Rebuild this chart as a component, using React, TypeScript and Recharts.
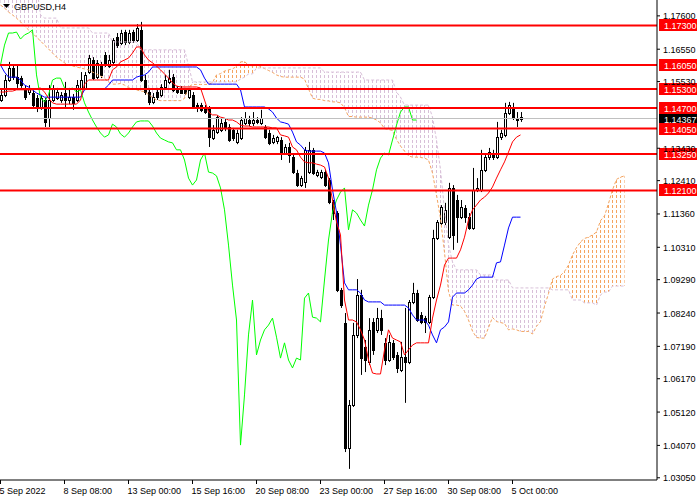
import React from 'react';
import { ComposedChart, Bar, Line, Area, XAxis, YAxis, ReferenceLine } from 'recharts';

// H4 candles, oldest first (bar 0 = 5 Sep 2022)
const openP = [
  1.1495, 1.1511, 1.1558, 1.1596, 1.1567, 1.1564, 1.1533, 1.1520, 1.1517, 1.1501,
  1.1473, 1.1495, 1.1438, 1.1495, 1.1501, 1.1495, 1.1517, 1.1495, 1.1504, 1.1495,
  1.1533, 1.1533, 1.1583, 1.1621, 1.1567, 1.1605, 1.1637, 1.1602, 1.1615, 1.1693,
  1.1675, 1.1709, 1.1678, 1.1709, 1.1684, 1.1716, 1.1558, 1.1520, 1.1489, 1.1520,
  1.1511, 1.1536, 1.1552, 1.1567, 1.1533, 1.1530, 1.1527, 1.1504, 1.1511, 1.1479,
  1.1479, 1.1473, 1.1470, 1.1375, 1.1394, 1.1401, 1.1426, 1.1410, 1.1401, 1.1363,
  1.1375, 1.1423, 1.1432, 1.1423, 1.1432, 1.1423, 1.1410, 1.1391, 1.1363, 1.1366,
  1.1369, 1.1328, 1.1347, 1.1315, 1.1265, 1.1227, 1.1237, 1.1268, 1.1338, 1.1259,
  1.1252, 1.1268, 1.1243, 1.1174, 1.1139, 1.0897, 1.0793, 1.0399, 1.0534, 1.0755,
  1.0881, 1.0717, 1.0670, 1.0796, 1.0771, 1.0808, 1.0730, 1.0676, 1.0730, 1.0692,
  1.0645, 1.0685, 1.0670, 1.0859, 1.0887, 1.0818, 1.0808, 1.0796, 1.0874, 1.1060,
  1.1108, 1.1111, 1.1063, 1.1218, 1.1180, 1.1126, 1.1155, 1.1126, 1.1092, 1.1212,
  1.1212, 1.1275, 1.1315, 1.1328, 1.1315, 1.1378, 1.1385, 1.1454, 1.1470, 1.1438,
  1.1440,
];
const highP = [
  1.1527, 1.1574, 1.1615, 1.1605, 1.1605, 1.1571, 1.1542, 1.1542, 1.1527, 1.1511,
  1.1511, 1.1501, 1.1542, 1.1542, 1.1533, 1.1520, 1.1552, 1.1533, 1.1514, 1.1558,
  1.1583, 1.1583, 1.1637, 1.1630, 1.1621, 1.1615, 1.1646, 1.1637, 1.1690, 1.1706,
  1.1716, 1.1716, 1.1716, 1.1716, 1.1734, 1.1741, 1.1574, 1.1533, 1.1517, 1.1533,
  1.1545, 1.1574, 1.1590, 1.1577, 1.1539, 1.1539, 1.1533, 1.1533, 1.1520, 1.1486,
  1.1486, 1.1479, 1.1476, 1.1416, 1.1448, 1.1438, 1.1435, 1.1419, 1.1407, 1.1401,
  1.1441, 1.1457, 1.1445, 1.1457, 1.1441, 1.1464, 1.1416, 1.1401, 1.1385, 1.1382,
  1.1378, 1.1356, 1.1360, 1.1322, 1.1275, 1.1256, 1.1347, 1.1363, 1.1344, 1.1275,
  1.1275, 1.1275, 1.1249, 1.1180, 1.1145, 1.0903, 1.0824, 1.0550, 1.0793, 1.0931,
  1.0897, 1.0739, 1.0808, 1.0808, 1.0840, 1.0834, 1.0745, 1.0755, 1.0739, 1.0701,
  1.0733, 1.0840, 1.0865, 1.0919, 1.0897, 1.0827, 1.0815, 1.0881, 1.1086, 1.1117,
  1.1164, 1.1171, 1.1234, 1.1227, 1.1196, 1.1180, 1.1164, 1.1139, 1.1281, 1.1249,
  1.1338, 1.1322, 1.1344, 1.1338, 1.1426, 1.1401, 1.1486, 1.1489, 1.1486, 1.1457,
  1.1457,
];
const lowP = [
  1.1489, 1.1504, 1.1552, 1.1558, 1.1533, 1.1533, 1.1495, 1.1511, 1.1473, 1.1457,
  1.1464, 1.1410, 1.1410, 1.1489, 1.1495, 1.1486, 1.1473, 1.1482, 1.1464, 1.1489,
  1.1527, 1.1527, 1.1577, 1.1558, 1.1561, 1.1564, 1.1599, 1.1596, 1.1608, 1.1659,
  1.1668, 1.1668, 1.1671, 1.1675, 1.1678, 1.1552, 1.1511, 1.1479, 1.1482, 1.1495,
  1.1504, 1.1527, 1.1545, 1.1520, 1.1514, 1.1514, 1.1511, 1.1498, 1.1467, 1.1457,
  1.1457, 1.1451, 1.1347, 1.1369, 1.1388, 1.1394, 1.1397, 1.1363, 1.1366, 1.1356,
  1.1369, 1.1416, 1.1413, 1.1413, 1.1419, 1.1416, 1.1372, 1.1353, 1.1356, 1.1356,
  1.1306, 1.1322, 1.1297, 1.1262, 1.1221, 1.1221, 1.1218, 1.1262, 1.1259, 1.1252,
  1.1246, 1.1221, 1.1167, 1.1117, 1.0890, 1.0840, 1.0386, 1.0333, 1.0528, 1.0745,
  1.0629, 1.0638, 1.0660, 1.0692, 1.0761, 1.0755, 1.0660, 1.0670, 1.0676, 1.0635,
  1.0638, 1.0541, 1.0663, 1.0852, 1.0796, 1.0789, 1.0761, 1.0789, 1.0868, 1.1054,
  1.1101, 1.1101, 1.1057, 1.1023, 1.1045, 1.1120, 1.1108, 1.1086, 1.1086, 1.1205,
  1.1205, 1.1268, 1.1306, 1.1306, 1.1309, 1.1369, 1.1378, 1.1448, 1.1432, 1.1410,
  1.1426,
];
const closeP = [
  1.1511, 1.1558, 1.1596, 1.1567, 1.1549, 1.1542, 1.1504, 1.1533, 1.1479, 1.1470,
  1.1501, 1.1426, 1.1495, 1.1533, 1.1520, 1.1511, 1.1495, 1.1504, 1.1486, 1.1542,
  1.1558, 1.1574, 1.1627, 1.1564, 1.1612, 1.1574, 1.1608, 1.1621, 1.1684, 1.1668,
  1.1706, 1.1678, 1.1706, 1.1684, 1.1722, 1.1558, 1.1520, 1.1489, 1.1504, 1.1504,
  1.1536, 1.1558, 1.1564, 1.1527, 1.1520, 1.1517, 1.1517, 1.1527, 1.1473, 1.1470,
  1.1464, 1.1457, 1.1378, 1.1401, 1.1441, 1.1423, 1.1407, 1.1369, 1.1375, 1.1391,
  1.1432, 1.1438, 1.1423, 1.1432, 1.1426, 1.1438, 1.1378, 1.1360, 1.1375, 1.1378,
  1.1328, 1.1347, 1.1322, 1.1268, 1.1227, 1.1249, 1.1338, 1.1338, 1.1265, 1.1268,
  1.1268, 1.1227, 1.1174, 1.1139, 1.0897, 1.0849, 1.0399, 1.0534, 1.0755, 1.0881,
  1.0682, 1.0676, 1.0771, 1.0708, 1.0808, 1.0771, 1.0676, 1.0733, 1.0685, 1.0651,
  1.0685, 1.0670, 1.0859, 1.0887, 1.0802, 1.0796, 1.0796, 1.0874, 1.1060, 1.1111,
  1.1158, 1.1149, 1.1218, 1.1070, 1.1126, 1.1158, 1.1126, 1.1092, 1.1212, 1.1218,
  1.1275, 1.1315, 1.1331, 1.1315, 1.1378, 1.1391, 1.1454, 1.1479, 1.1438, 1.1432,
  1.14367,
];

// Ichimoku lines
const tenkan = [
  1.1520, 1.1520, 1.1523, 1.1523, 1.1527, 1.1527, 1.1527, 1.1527, 1.1527, 1.1530,
  1.1533, 1.1520, 1.1501, 1.1486, 1.1482, 1.1482, 1.1482, 1.1482, 1.1482, 1.1482,
  1.1495, 1.1545, 1.1558, 1.1558, 1.1558, 1.1558, 1.1558, 1.1558, 1.1590, 1.1599,
  1.1615, 1.1621, 1.1627, 1.1643, 1.1662, 1.1662, 1.1637, 1.1621, 1.1612, 1.1602,
  1.1590, 1.1577, 1.1564, 1.1549, 1.1539, 1.1536, 1.1536, 1.1536, 1.1536, 1.1536,
  1.1533, 1.1495, 1.1457, 1.1448, 1.1448, 1.1441, 1.1438, 1.1432, 1.1432, 1.1426,
  1.1416, 1.1413, 1.1413, 1.1410, 1.1410, 1.1410, 1.1410, 1.1410, 1.1407, 1.1407,
  1.1385, 1.1382, 1.1378, 1.1347, 1.1338, 1.1315, 1.1300, 1.1297, 1.1297, 1.1293,
  1.1290, 1.1284, 1.1249, 1.1180, 1.1111, 1.1070, 1.0865, 1.0802, 1.0802, 1.0796,
  1.0771, 1.0739, 1.0676, 1.0635, 1.0632, 1.0632, 1.0708, 1.0771, 1.0745, 1.0739,
  1.0733, 1.0692, 1.0708, 1.0723, 1.0730, 1.0730, 1.0730, 1.0730, 1.0808, 1.0865,
  1.0912, 1.0975, 1.0997, 1.0997, 1.0997, 1.1023, 1.1063, 1.1117, 1.1149, 1.1164,
  1.1180, 1.1189, 1.1202, 1.1221, 1.1249, 1.1275, 1.1300, 1.1331, 1.1363, 1.1378,
  1.1385,
];
const kijun = [
  1.1605, 1.1583, 1.1567, 1.1567, 1.1567, 1.1558, 1.1542, 1.1536, 1.1527, 1.1517,
  1.1511, 1.1504, 1.1504, 1.1504, 1.1504, 1.1504, 1.1504, 1.1504, 1.1504, 1.1504,
  1.1504, 1.1527, 1.1530, 1.1530, 1.1530, 1.1530, 1.1530, 1.1542, 1.1558, 1.1558,
  1.1558, 1.1558, 1.1558, 1.1558, 1.1567, 1.1571, 1.1574, 1.1583, 1.1599, 1.1599,
  1.1599, 1.1599, 1.1599, 1.1599, 1.1599, 1.1599, 1.1599, 1.1599, 1.1599, 1.1599,
  1.1590, 1.1564, 1.1545, 1.1545, 1.1545, 1.1545, 1.1545, 1.1545, 1.1545, 1.1545,
  1.1527, 1.1473, 1.1473, 1.1473, 1.1473, 1.1473, 1.1473, 1.1467, 1.1457, 1.1438,
  1.1426, 1.1423, 1.1419, 1.1394, 1.1363, 1.1353, 1.1338, 1.1334, 1.1334, 1.1334,
  1.1334, 1.1328, 1.1297, 1.1212, 1.1142, 1.1038, 1.0919, 1.0897, 1.0897, 1.0897,
  1.0887, 1.0865, 1.0859, 1.0859, 1.0859, 1.0859, 1.0849, 1.0849, 1.0849, 1.0849,
  1.0849, 1.0849, 1.0840, 1.0818, 1.0802, 1.0802, 1.0802, 1.0786, 1.0755, 1.0730,
  1.0771, 1.0780, 1.0796, 1.0874, 1.0887, 1.0887, 1.0887, 1.0897, 1.0912, 1.0931,
  1.0937, 1.0937, 1.0937, 1.0937, 1.0982, 1.0985, 1.1038, 1.1092, 1.1126, 1.1126,
  1.1126,
];
// lagging span, plotted 26 bars back
const chikou = [
  1.1605, 1.1668, 1.1706, 1.1706, 1.1709, 1.1687, 1.1700, 1.1706, 1.1716, 1.1574,
  1.1501, 1.1489, 1.1511, 1.1558, 1.1564, 1.1564, 1.1533, 1.1527, 1.1533, 1.1520,
  1.1527, 1.1486, 1.1457, 1.1432, 1.1410, 1.1391, 1.1378, 1.1385, 1.1419, 1.1410,
  1.1388, 1.1378, 1.1391, 1.1410, 1.1426, 1.1429, 1.1429, 1.1429, 1.1413, 1.1391,
  1.1375, 1.1369, 1.1363, 1.1360, 1.1338, 1.1338, 1.1306, 1.1249, 1.1227, 1.1243,
  1.1306, 1.1328, 1.1268, 1.1265, 1.1256, 1.1218, 1.1149, 1.1038, 1.0912, 1.0802,
  1.0408, 1.0566, 1.0755, 1.0865, 1.0692, 1.0739, 1.0771, 1.0786, 1.0808, 1.0748,
  1.0682, 1.0730, 1.0676, 1.0651, 1.0682, 1.0676, 1.0871, 1.0887, 1.0811, 1.0808,
  1.0796, 1.0928, 1.1054, 1.1142, 1.1180, 1.1205, 1.1218, 1.1086, 1.1149, 1.1139,
  1.1117, 1.1098, 1.1164, 1.1212, 1.1275, 1.1312, 1.1328, 1.1322, 1.1369, 1.1416,
  1.1457, 1.1473, 1.1473, 1.1432, 1.1432,
];
// leading spans, running 26 bars past the last candle
const spanA = [
  1.1794, 1.1785, 1.1772, 1.1763, 1.1753, 1.1741, 1.1728, 1.1716, 1.1706, 1.1693,
  1.1681, 1.1668, 1.1656, 1.1643, 1.1630, 1.1621, 1.1612, 1.1605, 1.1602, 1.1599,
  1.1596, 1.1593, 1.1590, 1.1583, 1.1577, 1.1571, 1.1563, 1.1552, 1.1545, 1.1545,
  1.1547, 1.1542, 1.1534, 1.1531, 1.1527, 1.1523, 1.1522, 1.1512, 1.1503, 1.1495,
  1.1493, 1.1493, 1.1493, 1.1493, 1.1493, 1.1493, 1.1500, 1.1536, 1.1544, 1.1544,
  1.1544, 1.1544, 1.1544, 1.1550, 1.1574, 1.1578, 1.1586, 1.1590, 1.1593, 1.1601,
  1.1615, 1.1616, 1.1605, 1.1602, 1.1605, 1.1601, 1.1594, 1.1588, 1.1582, 1.1574,
  1.1569, 1.1567, 1.1567, 1.1567, 1.1567, 1.1567, 1.1561, 1.1530, 1.1501, 1.1497,
  1.1497, 1.1493, 1.1492, 1.1489, 1.1489, 1.1486, 1.1471, 1.1443, 1.1443, 1.1441,
  1.1441, 1.1441, 1.1441, 1.1438, 1.1432, 1.1423, 1.1405, 1.1402, 1.1399, 1.1371,
  1.1350, 1.1334, 1.1319, 1.1315, 1.1315, 1.1314, 1.1312, 1.1306, 1.1265, 1.1196,
  1.1122, 1.1015, 1.0892, 1.0849, 1.0849, 1.0846, 1.0829, 1.0802, 1.0767, 1.0747,
  1.0745, 1.0745, 1.0778, 1.0810, 1.0797, 1.0794, 1.0791, 1.0771, 1.0774, 1.0771,
  1.0766, 1.0766, 1.0766, 1.0758, 1.0782, 1.0797, 1.0845, 1.0885, 1.0931, 1.0939,
  1.0942, 1.0955, 1.0975, 1.1007, 1.1030, 1.1048, 1.1059, 1.1063, 1.1070, 1.1079,
  1.1115, 1.1130, 1.1169, 1.1212, 1.1245, 1.1252, 1.1256,
];
const spanB = [
  1.1857, 1.1857, 1.1857, 1.1857, 1.1857, 1.1857, 1.1857, 1.1857, 1.1857, 1.1857,
  1.1763, 1.1753, 1.1753, 1.1753, 1.1753, 1.1722, 1.1722, 1.1722, 1.1722, 1.1722,
  1.1722, 1.1722, 1.1722, 1.1706, 1.1706, 1.1706, 1.1706, 1.1706, 1.1678, 1.1678,
  1.1678, 1.1678, 1.1678, 1.1678, 1.1678, 1.1653, 1.1653, 1.1653, 1.1653, 1.1653,
  1.1653, 1.1653, 1.1653, 1.1653, 1.1653, 1.1653, 1.1653, 1.1605, 1.1552, 1.1552,
  1.1552, 1.1552, 1.1552, 1.1552, 1.1552, 1.1552, 1.1552, 1.1552, 1.1552, 1.1552,
  1.1561, 1.1567, 1.1577, 1.1577, 1.1596, 1.1596, 1.1596, 1.1596, 1.1596, 1.1596,
  1.1596, 1.1596, 1.1596, 1.1596, 1.1596, 1.1596, 1.1596, 1.1596, 1.1596, 1.1596,
  1.1596, 1.1583, 1.1583, 1.1583, 1.1583, 1.1583, 1.1583, 1.1583, 1.1583, 1.1583,
  1.1583, 1.1558, 1.1558, 1.1558, 1.1558, 1.1558, 1.1558, 1.1558, 1.1558, 1.1520,
  1.1504, 1.1479, 1.1479, 1.1479, 1.1479, 1.1479, 1.1479, 1.1479, 1.1441, 1.1369,
  1.1275, 1.1149, 1.1038, 1.0985, 1.0960, 1.0960, 1.0960, 1.0960, 1.0960, 1.0960,
  1.0944, 1.0944, 1.0944, 1.0944, 1.0928, 1.0928, 1.0928, 1.0928, 1.0903, 1.0903,
  1.0903, 1.0903, 1.0903, 1.0903, 1.0903, 1.0903, 1.0903, 1.0903, 1.0897, 1.0897,
  1.0897, 1.0897, 1.0897, 1.0865, 1.0865, 1.0865, 1.0856, 1.0856, 1.0856, 1.0849,
  1.0881, 1.0890, 1.0890, 1.0909, 1.0909, 1.0909, 1.0909,
];

const timeTickBars = [0, 16, 32, 48, 64, 80, 96, 112, 128];
const timeLabels = [
  '5 Sep 2022', '8 Sep 08:00', '13 Sep 00:00', '15 Sep 16:00', '20 Sep 08:00',
  '23 Sep 00:00', '27 Sep 16:00', '30 Sep 08:00', '5 Oct 00:00',
];
// 1.14480 sits fully under the price tags, so it is left out
const priceTicks = [
  1.176, 1.1655, 1.1553, 1.1343, 1.1241, 1.1136, 1.1031,
  1.0929, 1.0824, 1.0719, 1.0617, 1.0512, 1.0407, 1.0305,
];
const levels = [1.173, 1.1605, 1.153, 1.147, 1.1405, 1.1325, 1.121];
const lastPrice = 1.14367;

const FONT = '"Liberation Sans", Arial, sans-serif';

const rows = spanA.map((a, i) => {
  const b = spanB[i];
  const bar = i < closeP.length;
  return {
    i,
    open: bar ? openP[i] : undefined,
    high: bar ? highP[i] : undefined,
    low: bar ? lowP[i] : undefined,
    close: bar ? closeP[i] : undefined,
    hl: bar ? [lowP[i], highP[i]] : undefined,
    tenkan: tenkan[i],
    kijun: kijun[i],
    chikou: chikou[i],
    spanA: a,
    spanB: b,
    kumoDown: b >= a ? [a, b] : [b, b],
    kumoUp: a > b ? [b, a] : [a, a],
  };
});

function Candle(props: any) {
  const { x, y, width, height, payload } = props;
  if (!payload || payload.open == null || !isFinite(y) || !isFinite(height)) return null;
  const { open, high, low, close } = payload;
  const top = Math.min(y, y + height);
  const h = Math.abs(height);
  const span = high - low || 1e-9;
  const py = (v: number) => top + ((high - v) / span) * h;
  const cx = Math.floor(x + width / 2) + 0.5;
  const bTop = Math.round(py(Math.max(open, close))) + 0.5;
  const bBot = Math.max(bTop + 1, Math.round(py(Math.min(open, close))) + 0.5);
  const bull = close >= open;
  return (
    <g>
      <line x1={cx} x2={cx} y1={top} y2={top + h} stroke="#000" strokeWidth={1} />
      <rect x={cx - 1} y={bTop} width={2} height={bBot - bTop} fill={bull ? '#fff' : '#000'} stroke="#000" strokeWidth={1} />
    </g>
  );
}

function TimeTick(props: any) {
  const { x, payload } = props;
  const k = timeTickBars.indexOf(payload.value);
  return (
    <text x={x - 1} y={494} fontSize={9} fontFamily={FONT} fill="#000" textAnchor="start">
      {timeLabels[k]}
    </text>
  );
}

function PriceTick(props: any) {
  const { y, payload } = props;
  return (
    <text x={663} y={y + 3.5} fontSize={9} fontFamily={FONT} fill="#000" textAnchor="start">
      {payload.value.toFixed(5)}
    </text>
  );
}

const priceTag = (text: string, bg: string) => (p: any) => {
  const vb = p && p.viewBox ? p.viewBox : { y: 0 };
  const yy = Math.round(vb.y);
  return (
    <g>
      <rect x={659} y={yy - 6} width={38} height={12} fill={bg} />
      <text x={664} y={yy + 3.5} fontSize={9} fontFamily={FONT} fill="#fff">{text}</text>
    </g>
  );
};

export default function App() {
  return (
    <div style={{ position: 'absolute', left: 0, top: 0, width: 700, height: 500, background: '#fff' }}>
      <ComposedChart width={700} height={500} data={rows} margin={{ top: 0, right: 0, bottom: 0, left: 0 }}>
        <defs>
          <pattern id="kumoThistle" width="4" height="5" patternUnits="userSpaceOnUse">
            <rect x="0" y="0" width="1" height="3" fill="#D8BFD8" />
          </pattern>
          <pattern id="kumoSand" width="4" height="5" patternUnits="userSpaceOnUse">
            <rect x="0" y="0" width="1" height="3" fill="#F4A460" />
          </pattern>
        </defs>
        <XAxis
          dataKey="i"
          type="number"
          domain={[-0.125, 164.125]}
          allowDataOverflow
          ticks={timeTickBars}
          interval={0}
          tick={<TimeTick />}
          tickSize={4}
          tickLine={{ stroke: '#000' }}
          axisLine={{ stroke: '#000' }}
          height={20}
        />
        <YAxis
          orientation="right"
          type="number"
          domain={[1.0298, 1.181]}
          allowDataOverflow
          ticks={priceTicks}
          interval={0}
          tick={<PriceTick />}
          tickSize={3}
          tickLine={{ stroke: '#000' }}
          axisLine={{ stroke: '#000' }}
          width={43}
        />
        <Area dataKey="kumoDown" type="linear" stroke="none" fill="url(#kumoThistle)" fillOpacity={1} dot={false} activeDot={false} isAnimationActive={false} />
        <Area dataKey="kumoUp" type="linear" stroke="none" fill="url(#kumoSand)" fillOpacity={1} dot={false} activeDot={false} isAnimationActive={false} />
        <Line dataKey="spanA" type="linear" stroke="#F4A460" strokeDasharray="3 2" strokeWidth={1} dot={false} activeDot={false} isAnimationActive={false} />
        <Line dataKey="spanB" type="linear" stroke="#D8BFD8" strokeDasharray="3 2" strokeWidth={1} dot={false} activeDot={false} isAnimationActive={false} />
        <Bar dataKey="hl" barSize={3} shape={(p: any) => <Candle {...p} />} isAnimationActive={false} />
        <Line dataKey="chikou" type="linear" stroke="#00FF00" strokeWidth={1} dot={false} activeDot={false} isAnimationActive={false} />
        <Line dataKey="kijun" type="linear" stroke="#0000FF" strokeWidth={1} dot={false} activeDot={false} isAnimationActive={false} />
        <Line dataKey="tenkan" type="linear" stroke="#FF0000" strokeWidth={1} dot={false} activeDot={false} isAnimationActive={false} />
        <ReferenceLine y={lastPrice} stroke="#C0C0C0" strokeWidth={1} label={priceTag('1.14367', '#000')} />
        {levels.map((lv) => (
          <ReferenceLine key={lv} y={lv} stroke="#FF0000" strokeWidth={2} label={priceTag(lv.toFixed(5), '#FF0000')} />
        ))}
      </ComposedChart>
      <div style={{ position: 'absolute', left: 3, top: 2, display: 'flex', alignItems: 'center', fontFamily: FONT, fontSize: 9, color: '#000' }}>
        <svg width={8} height={6} style={{ marginRight: 3 }}>
          <polygon points="0,0 7,0 3.5,4" fill="#000" />
        </svg>
        <span>GBPUSD,H4</span>
      </div>
    </div>
  );
}
